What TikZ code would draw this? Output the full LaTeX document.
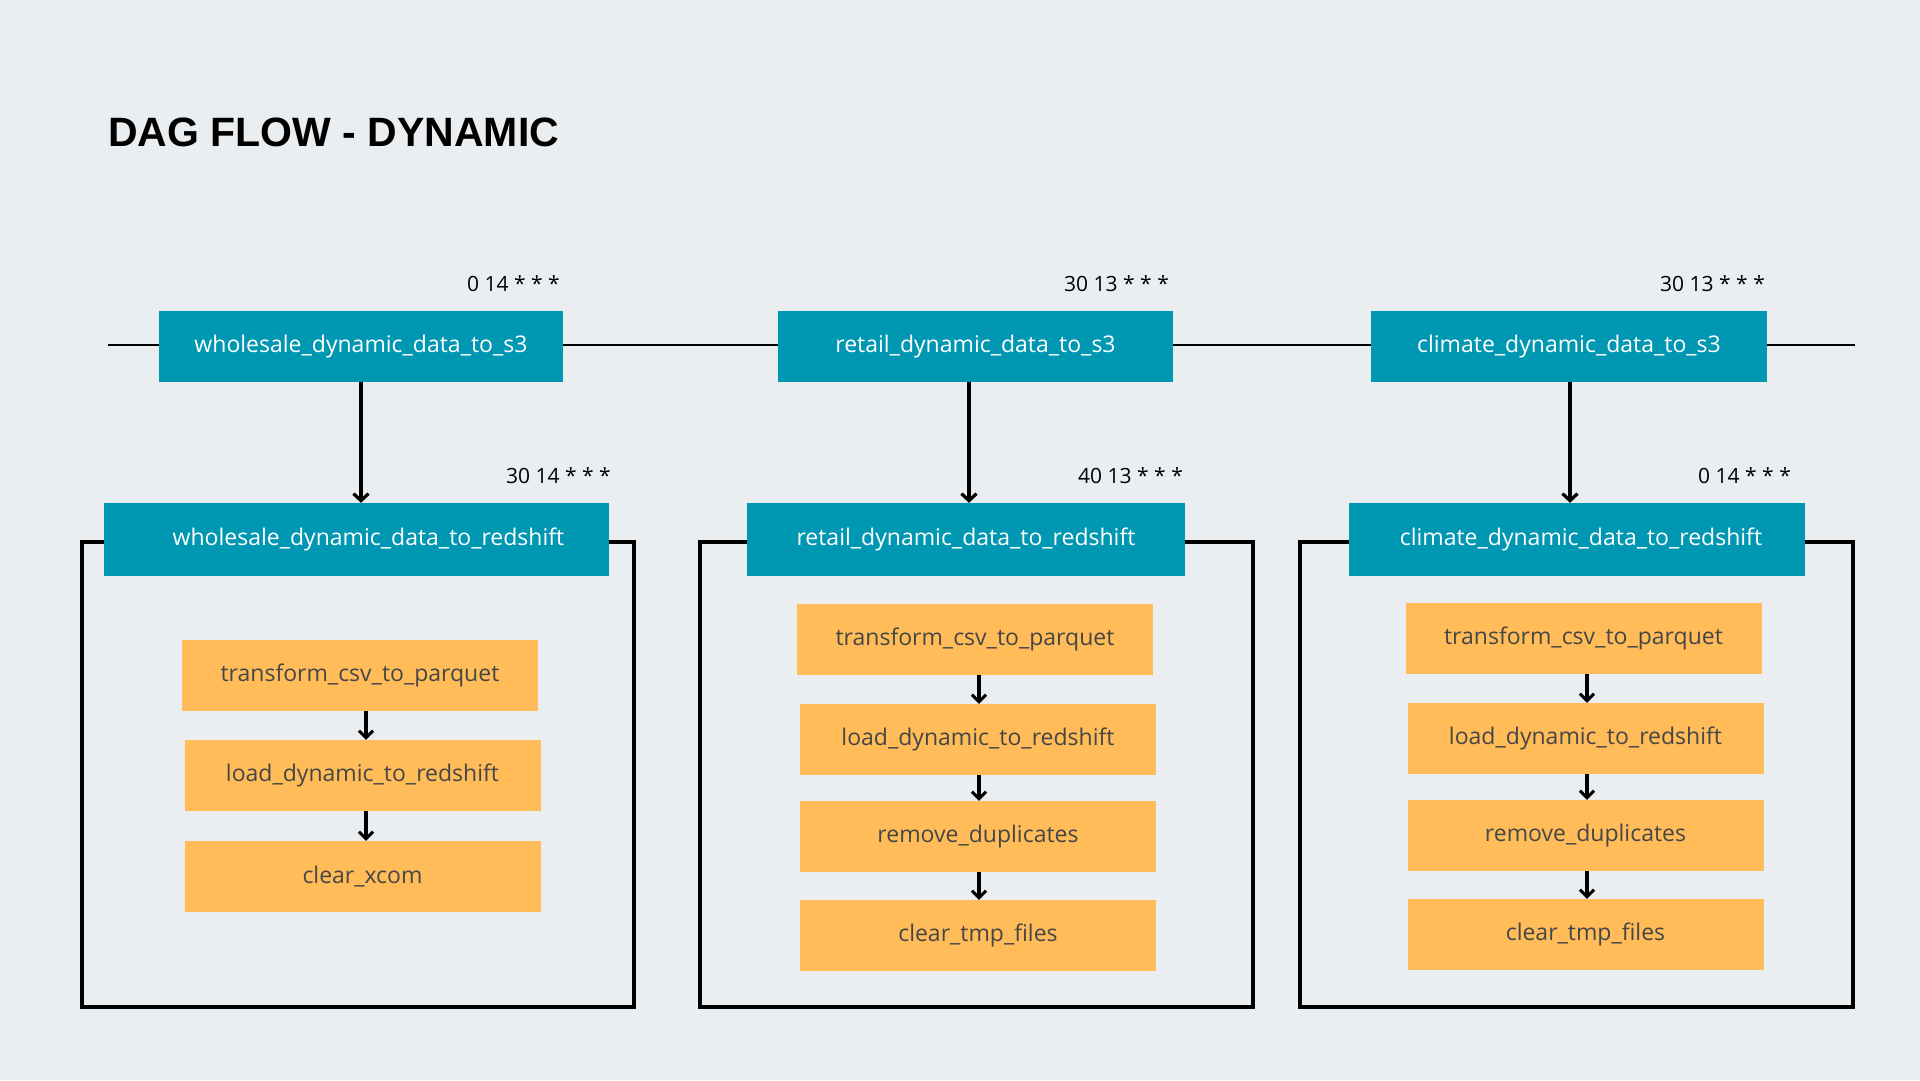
\documentclass[tikz,border=0pt]{standalone}
\usepackage{fontspec}
\setmainfont{Open Sans}
\newfontfamily\titlefont{Liberation Sans}
\usetikzlibrary{arrows.meta}
\definecolor{bgc}{RGB}{235,238,241}
\definecolor{teal}{RGB}{0,151,178}
\definecolor{orng}{RGB}{255,188,88}
\definecolor{txtg}{RGB}{70,70,70}
\tikzset{
  dagbox/.style={fill=teal, text=white, inner sep=0pt, font=\fontsize{23}{26}\selectfont},
  taskbox/.style={fill=orng, text=txtg, inner sep=0pt, minimum width=356pt, minimum height=71pt, font=\fontsize{23}{26}\selectfont},
  cron/.style={text=black, inner sep=0pt, anchor=base east, font=\fontsize{21}{24}\selectfont},
  bigarrow/.style={line width=3.8pt, -{Straight Barb[length=7pt,width=15pt,line width=3.2pt]}},
  smallarrow/.style={line width=3.3pt, -{Straight Barb[length=7pt,width=14pt,line width=3pt]}},
  frame/.style={draw=black, line width=3.2pt},
  timeline/.style={draw=black, line width=1.4pt}
}
\begin{document}
\begin{tikzpicture}[x=1pt,y=-1pt]
\path[fill=bgc] (0,0) rectangle (1920,1080);
\useasboundingbox (0,0) rectangle (1920,1080);

\node[anchor=base west, inner sep=0pt, font=\titlefont\bfseries\fontsize{41}{45}\selectfont] (title) at (108,146) {DAG FLOW - DYNAMIC};

% timeline
\coordinate (tl) at (108,345);
\coordinate (tr) at (1855,345);
\draw[timeline] (tl) -- (tr);

% frames
\draw[frame] (82,542) rectangle (634,1007);
\draw[frame] (700,542) rectangle (1253,1007);
\draw[frame] (1300,542) rectangle (1853,1007);

% top DAG boxes
\node[dagbox, minimum width=404pt, minimum height=71pt] (ws3) at (361,346.5) {wholesale\_dynamic\_data\_to\_s3};
\node[dagbox, minimum width=395pt, minimum height=71pt] (rs3) at (975.5,346.5) {retail\_dynamic\_data\_to\_s3};
\node[dagbox, minimum width=396pt, minimum height=71pt] (cs3) at (1569,346.5) {climate\_dynamic\_data\_to\_s3};

% redshift boxes
\node[dagbox, minimum width=505pt, minimum height=73pt, text width=505pt, align=center] (wrs) at (356.5,539.5) {\hspace*{24pt}wholesale\_dynamic\_data\_to\_redshift};
\node[dagbox, minimum width=438pt, minimum height=73pt] (rrs) at (966,539.5) {retail\_dynamic\_data\_to\_redshift};
\node[dagbox, minimum width=456pt, minimum height=73pt, text width=456pt, align=center] (crs) at (1577,539.5) {\hspace*{8pt}climate\_dynamic\_data\_to\_redshift};

% cron labels
\node[cron] (wc1) at (560,291) {0 14 * * *};
\node[cron] (rc1) at (1169,291) {30 13 * * *};
\node[cron] (cc1) at (1765,291) {30 13 * * *};
\node[cron] (wc2) at (611,483) {30 14 * * *};
\node[cron] (rc2) at (1183,483) {40 13 * * *};
\node[cron] (cc2) at (1791,483) {0 14 * * *};

% arrows s3 -> redshift
\coordinate (wa) at (361,382);
\coordinate (ra) at (969,382);
\coordinate (ca) at (1570,382);
\draw[bigarrow] (wa) -- (wa |- wrs.north);
\draw[bigarrow] (ra) -- (ra |- rrs.north);
\draw[bigarrow] (ca) -- (ca |- crs.north);

% wholesale tasks
\node[taskbox] (wt1) at (360,675.5) {transform\_csv\_to\_parquet};
\node[taskbox] (wt2) at (362.5,775.5) {load\_dynamic\_to\_redshift};
\node[taskbox] (wt3) at (362.5,876.5) {clear\_xcom};

% retail tasks
\node[taskbox] (rt1) at (975,639.5) {transform\_csv\_to\_parquet};
\node[taskbox] (rt2) at (978,739.5) {load\_dynamic\_to\_redshift};
\node[taskbox] (rt3) at (978,836.5) {remove\_duplicates};
\node[taskbox] (rt4) at (978,935.5) {clear\_tmp\_files};

% climate tasks
\node[taskbox] (ct1) at (1583.5,638.5) {transform\_csv\_to\_parquet};
\node[taskbox] (ct2) at (1585.5,738.5) {load\_dynamic\_to\_redshift};
\node[taskbox] (ct3) at (1585.5,835.5) {remove\_duplicates};
\node[taskbox] (ct4) at (1585.5,934.5) {clear\_tmp\_files};

% task arrows
\coordinate (wx) at (366,0);
\draw[smallarrow] (wx |- wt1.south) -- (wx |- wt2.north);
\draw[smallarrow] (wx |- wt2.south) -- (wx |- wt3.north);
\coordinate (rx) at (979,0);
\draw[smallarrow] (rx |- rt1.south) -- (rx |- rt2.north);
\draw[smallarrow] (rx |- rt2.south) -- (rx |- rt3.north);
\draw[smallarrow] (rx |- rt3.south) -- (rx |- rt4.north);
\coordinate (cx) at (1587,0);
\draw[smallarrow] (cx |- ct1.south) -- (cx |- ct2.north);
\draw[smallarrow] (cx |- ct2.south) -- (cx |- ct3.north);
\draw[smallarrow] (cx |- ct3.south) -- (cx |- ct4.north);
\end{tikzpicture}
\end{document}
